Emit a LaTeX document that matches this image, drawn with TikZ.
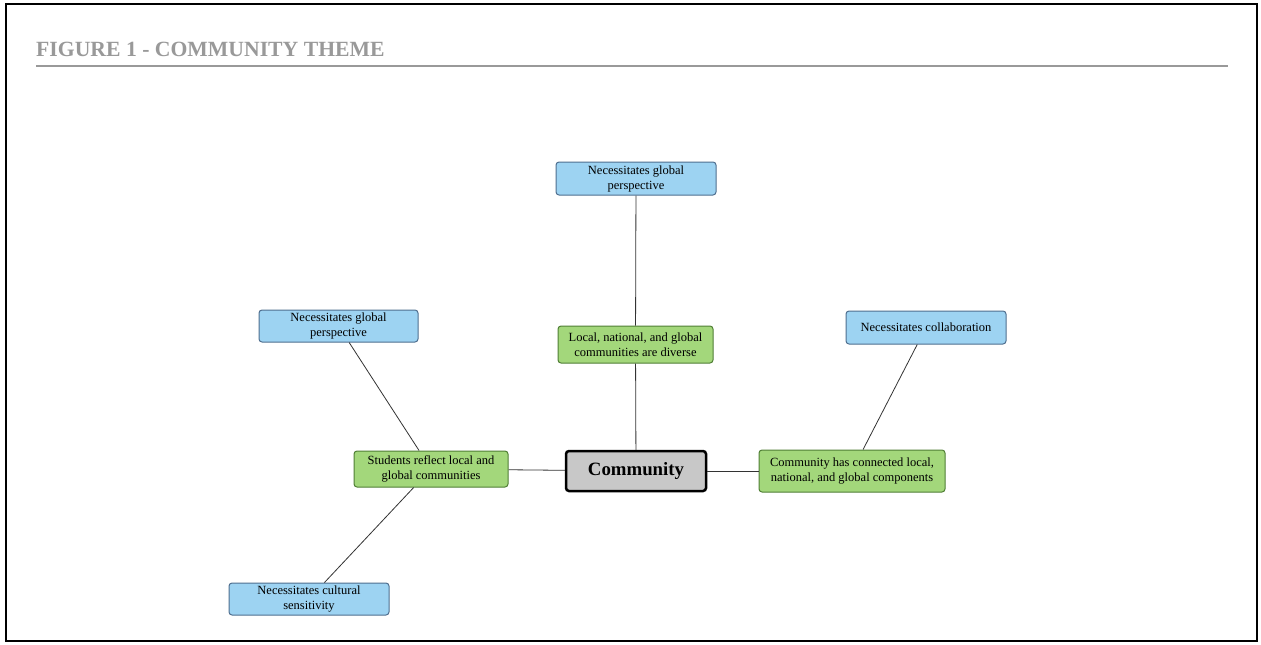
\documentclass[tikz,border=0pt]{standalone}
\usepackage{fontspec}
\setmainfont{Liberation Serif}
\definecolor{bluefill}{HTML}{9DD3F2}
\definecolor{blueedge}{HTML}{4F6F8F}
\definecolor{greenfill}{HTML}{A3D77B}
\definecolor{greenedge}{HTML}{507F35}
\definecolor{commfill}{HTML}{C8C8C8}
\definecolor{titlegray}{HTML}{999999}
\tikzset{
  box/.style={rounded corners=3pt, line width=1pt, align=center, inner sep=0pt,
    font=\fontsize{12.5}{15}\selectfont},
  bluebox/.style={box, draw=blueedge, fill=bluefill, minimum width=160pt, minimum height=33pt},
  greenbox/.style={box, draw=greenedge, fill=greenfill, minimum height=37pt},
  centerbox/.style={rounded corners=3pt, line width=2.5pt, draw=black, fill=commfill,
    minimum width=140pt, minimum height=40pt, font=\fontsize{18.8}{22}\selectfont\bfseries},
  link/.style={draw=black!80, line width=0.8pt}
}
\begin{document}
\begin{tikzpicture}[x=1pt,y=-1pt]
\useasboundingbox (0,0) rectangle (1261,645);
\fill[white] (0,0) rectangle (1261,645);
\draw[line width=2pt] (6,4) rectangle (1257,641);
\node[anchor=base west, text=titlegray, font=\fontsize{21.7}{24}\selectfont\bfseries, inner sep=0pt] (title) at (36,56) {FIGURE 1 - COMMUNITY THEME};
\draw[titlegray, line width=1.3pt] (36,66) coordinate (r1) -- (1228,66) coordinate (r2);

\node[centerbox] (comm) at (636,471) {Community};
\node[greenbox, minimum width=155pt] (g1) at (635.5,344.5) {Local, national, and global\\communities are diverse};
\node[greenbox, minimum width=154pt, minimum height=36pt] (g2) at (431,469) {Students reflect local and\\global communities};
\node[greenbox, minimum width=186pt, minimum height=42pt] (g3) at (852,471) {Community has connected local,\\national, and global components};
\node[bluebox] (b1) at (636,178.5) {Necessitates global\\perspective};
\node[bluebox, minimum width=159pt, minimum height=32pt] (b2) at (338.5,326) {Necessitates global\\perspective};
\node[bluebox, minimum height=32pt] (b3) at (309,599) {Necessitates cultural\\sensitivity};
\node[bluebox] (b4) at (926,327.5) {Necessitates collaboration};

\draw[link] (b1) -- (g1);
\draw[link] (g1) -- (comm);
\draw[link] (g2) -- (comm);
\draw[link] (comm) -- (g3);
\draw[link] (b2) -- (g2);
\draw[link] (g2) -- (b3);
\draw[link] (b4) -- (g3);
\end{tikzpicture}
\end{document}
